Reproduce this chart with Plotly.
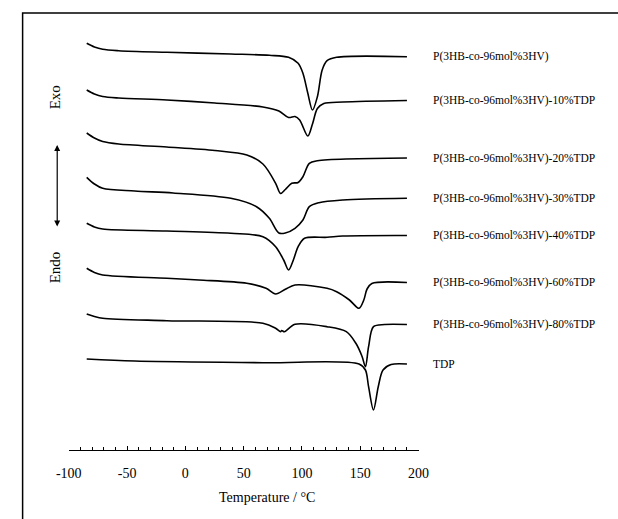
import plotly.graph_objects as go

# ---- data: DSC heating traces (temperature in degC, heat-flow in stacked arbitrary units; larger = more endothermic) ----
labels = [
    "P(3HB-co-96mol%3HV)",
    "P(3HB-co-96mol%3HV)-10%TDP",
    "P(3HB-co-96mol%3HV)-20%TDP",
    "P(3HB-co-96mol%3HV)-30%TDP",
    "P(3HB-co-96mol%3HV)-40%TDP",
    "P(3HB-co-96mol%3HV)-60%TDP",
    "P(3HB-co-96mol%3HV)-80%TDP",
    "TDP",
]

t1 = [-84.6, -78, -70.9, -57.1, -15.9, 39, 72, 88.5, 96.7, 100.8, 105, 109, 113.2, 117.3, 121.5, 129.7, 190]
y1 = [43.3, 47, 49.3, 50.7, 52.3, 54, 55.3, 57.3, 63.3, 73.3, 93.3, 110, 96.7, 70, 60.7, 57.3, 56.7]

t2 = [-84.6, -78, -70.9, -57.1, -15.9, 25.3, 66.5, 80.2, 88.5, 94, 98, 105, 109, 113.2, 118.7, 135.1, 190]
y2 = [90, 94, 96.5, 98, 100, 103, 107, 111, 117.5, 116.5, 120, 136, 124, 108.5, 103.5, 102, 100.5]

t3 = [-84.6, -78, -70.9, -57.1, -15.9, 25.3, 52.7, 66.5, 77.4, 81.6, 85.7, 91.2, 96.7, 100.8, 106.3, 113.2, 190]
y3 = [133, 138, 141.5, 144, 147, 150.5, 155, 164, 183.3, 193.5, 189.5, 183.3, 182.5, 176.7, 163.3, 160.7, 158]

t4 = [-84.6, -78, -70.9, -43.4, -10.5, 39, 61, 72, 80.2, 85.7, 94, 100.8, 106.3, 114.5, 135.1, 190]
y4 = [177.3, 184, 188.3, 191, 193, 198.3, 206.7, 218.3, 233, 233, 228.3, 220, 206.7, 202.7, 200, 198.3]

t5 = [-84.6, -78, -70.9, -15.9, 39, 66.5, 77.4, 84.3, 88.5, 92.6, 96.7, 102.2, 121.5, 135, 190]
y5 = [223.3, 227, 229, 231, 233.3, 236.7, 246.7, 260, 270, 260, 246.7, 238.3, 237.3, 236, 235.5]

t6 = [-84.6, -78, -70.9, -15.9, 11.5, 52.7, 69.2, 77.4, 85.7, 94, 121.5, 129.7, 140.7, 148.9, 153, 155.8, 159.9, 190]
y6 = [268.3, 272.5, 275, 278.3, 280, 283.3, 288.3, 294, 289.3, 285, 288.3, 291.7, 300, 308.3, 300, 289, 283.5, 282.5]

t7 = [-84.6, -78, -70.9, -15.9, 66.5, 77.4, 81.6, 82.6, 84.9, 94, 121.5, 138, 146.2, 151.6, 154.4, 157.1, 161.3, 170.9, 190]
y7 = [314, 316.5, 318.3, 320.7, 323.3, 328.3, 331.7, 330.5, 331.7, 324.3, 326.7, 331.7, 343.3, 356.7, 366.7, 346.7, 326.7, 324.5, 324.5]

t8 = [-84.6, -43.4, 66.5, 148.9, 154.4, 157.1, 161.3, 165.4, 169.5, 176.4, 190]
y8 = [359, 361, 362.7, 364, 370, 386.7, 410, 386.7, 370, 364.5, 364]

series_t = [t1, t2, t3, t4, t5, t6, t7, t8]
series_y = [y1, y2, y3, y4, y5, y6, y7, y8]

tick_vals = [-100, -50, 0, 50, 100, 150, 200]
tick_text = ["-100", "-50", "0", "50", "100", "150", "200"]

W, H = 618, 519
serif = "Liberation Serif, Times New Roman, serif"

fig = go.Figure()
for t, y, name in zip(series_t, series_y, labels):
    fig.add_trace(go.Scatter(x=t, y=y, mode="lines", name=name,
                             line=dict(color="black", width=1.6, shape="spline", smoothing=0.9),
                             showlegend=False, hoverinfo="skip"))

annotations = []
for y, name in zip(series_y, labels):
    annotations.append(dict(x=435 / W, xref="paper", y=y[-1], yref="y", text=name,
                            showarrow=False, xanchor="left", yanchor="middle",
                            font=dict(family=serif, size=11.5, color="black")))

annotations += [
    dict(x=44 / W, y=1 - 97 / H, xref="paper", yref="paper", text="Exo", textangle=-90,
         xanchor="center", yanchor="middle",
         showarrow=False, font=dict(family=serif, size=15, color="black")),
    dict(x=44 / W, y=1 - 267 / H, xref="paper", yref="paper", text="Endo", textangle=-90,
         xanchor="center", yanchor="middle",
         showarrow=False, font=dict(family=serif, size=15, color="black")),
    dict(x=46 / W, y=1 - 145 / H, xref="paper", yref="paper", text="", showarrow=True,
         ax=0, ay=83, arrowside="end+start", arrowhead=2, arrowsize=1, arrowwidth=1.2,
         arrowcolor="black"),
    dict(x=264 / W, y=1 - 497 / H, xref="paper", yref="paper", text="Temperature / °C",
         xanchor="center", yanchor="middle",
         showarrow=False, font=dict(family=serif, size=14, color="black")),
]

fig.update_layout(
    width=W, height=H,
    margin=dict(l=0, r=0, t=0, b=0),
    paper_bgcolor="white", plot_bgcolor="white",
    xaxis=dict(domain=[58 / W, 422 / W], range=[-100, 200], anchor="free", position=1 - 450 / H,
               showline=True, linecolor="black", linewidth=1, showgrid=False, zeroline=False,
               tickmode="array", tickvals=tick_vals, ticktext=tick_text,
               ticks="inside", ticklen=4, tickcolor="black", tickwidth=1,
               ticklabelstandoff=10,
               minor=dict(dtick=10, tick0=0, ticks="inside", ticklen=3, tickcolor="black", tickwidth=1,
                          showgrid=False),
               tickfont=dict(family=serif, size=14, color="black")),
    yaxis=dict(domain=[0, 1], range=[H, 0], visible=False),
    annotations=annotations,
    shapes=[dict(type="rect", xref="paper", yref="paper", x0=10 / W, x1=1.05, y0=-0.05, y1=1 - 13 / H,
                 line=dict(color="black", width=1.5))],
)

fig.write_html("out.html")
